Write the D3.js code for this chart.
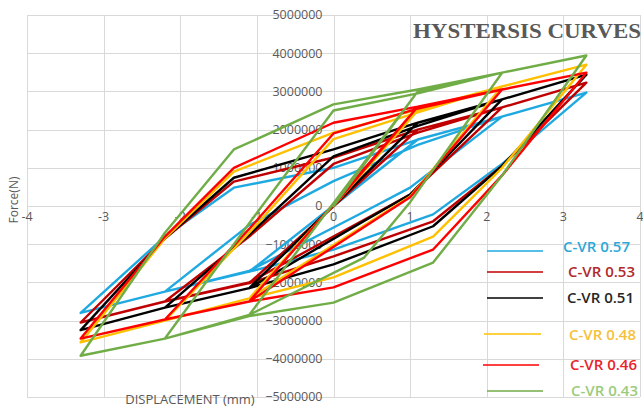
<!DOCTYPE html>
<html>
<head>
<meta charset="utf-8">
<script src="https://cdn.jsdelivr.net/npm/d3@7"></script>
<style>
  html, body { margin: 0; padding: 0; background: #fff; }
  svg { display: block; }
</style>
</head>
<body>
<svg id="chart" width="643" height="408"></svg>
<script>
// ---- data (displacement in mm, force in MN) ----
const displacement = [0, 1.1, -1.1, 1.1, 2.2, 1.0, 0.4, -1.1, -2.2, -1.1, 0, 1.1, 2.2, 3.3, 2.2, 1.3, 0, -1.1, -2.2, -3.3, -2.2, -1.3, 0, 1.1, 2.2, 3.3];
const cvr057 = [0, 1.74, -1.72, 1.74, 2.34, 0.48, -0.15, -1.7, -2.24, -0.5, 0.65, 1.6, 2.34, 2.97, 1.1, -0.22, -1.14, -1.72, -2.24, -2.8, -0.8, 0.48, 1.0, 1.74, 2.34, 2.97];
const cvr053 = [0, 2.0, -2.02, 2.0, 2.58, 0.3, -0.36, -2.0, -2.5, -0.8, 1.1, 1.92, 2.58, 3.23, 1.05, -0.4, -1.32, -2.02, -2.5, -3.05, -0.85, 0.64, 1.27, 2.0, 2.58, 3.23];
const cvr051 = [0, 2.18, -2.15, 2.18, 2.79, 0.3, -0.39, -2.15, -2.66, -0.75, 1.3, 2.1, 2.79, 3.44, 1.05, -0.53, -1.53, -2.15, -2.66, -3.25, -0.85, 0.74, 1.48, 2.18, 2.79, 3.44];
const cvr048 = [0, 2.5, -2.42, 2.5, 3.13, 0.25, -0.51, -2.42, -3.0, -0.7, 1.75, 2.45, 3.13, 3.70, 1.0, -0.8, -1.87, -2.42, -3.0, -3.57, -0.85, 0.9, 1.92, 2.53, 3.13, 3.70];
const cvr046 = [0, 2.6, -2.5, 2.6, 3.05, 0.23, -0.55, -2.5, -2.97, -0.6, 1.9, 2.55, 3.05, 3.49, 0.8, -1.14, -2.13, -2.5, -2.97, -3.47, -0.8, 1.0, 2.18, 2.6, 3.05, 3.49];
const cvr043 = [0, 3.0, -2.85, 3.0, 3.49, 0.1, -1.35, -2.85, -3.47, -0.45, 2.5, 2.95, 3.49, 3.94, 0.8, -1.48, -2.53, -2.88, -3.47, -3.92, -0.7, 1.48, 2.66, 3.05, 3.49, 3.94];
const seriesNames = ["C-VR 0.57", "C-VR 0.53", "C-VR 0.51", "C-VR 0.48", "C-VR 0.46", "C-VR 0.43"];
const xTicks = [-4, -3, -2, -1, 0, 1, 2, 3, 4];
const yTicks = [-5000000, -4000000, -3000000, -2000000, -1000000, 0, 1000000, 2000000, 3000000, 4000000, 5000000];

// ---- styling ----
const colors = ["#1FA9E1", "#C00000", "#000000", "#FFC000", "#FF0000", "#70AD47"];
const textColors = ["#2CA8D9", "#B02A2A", "#262626", "#F5C13A", "#E8232A", "#9CCB7E"];
const legendLines = [
  {x1: 487, x2: 543, y: 251, tx: 563, ty: 247},
  {x1: 487, x2: 543, y: 272, tx: 568, ty: 272},
  {x1: 487, x2: 543, y: 298, tx: 567, ty: 298},
  {x1: 484, x2: 541, y: 334, tx: 569, ty: 335},
  {x1: 483, x2: 539, y: 365, tx: 570, ty: 365},
  {x1: 487, x2: 543, y: 391, tx: 571, ty: 391}
];
const forces = [cvr057, cvr053, cvr051, cvr048, cvr046, cvr043];

const svg = d3.select("#chart");
const x = d3.scaleLinear().domain([-4, 4]).range([27, 640]);
const y = d3.scaleLinear().domain([-5000000, 5000000]).range([397, 15]);

// gridlines
const grid = svg.append("g").attr("stroke", "#D9D9D9").attr("stroke-width", 1);
grid.selectAll("line.v").data(xTicks).join("line")
  .attr("x1", d => Math.round(x(d)) + 0.5).attr("x2", d => Math.round(x(d)) + 0.5)
  .attr("y1", y(5000000)).attr("y2", y(-5000000));
grid.selectAll("line.h").data(yTicks).join("line")
  .attr("x1", x(-4)).attr("x2", x(4))
  .attr("y1", d => Math.round(y(d)) + 0.5).attr("y2", d => Math.round(y(d)) + 0.5);

// tick labels
const font = "'Open Sans', 'Liberation Sans', sans-serif";
svg.append("g").selectAll("text").data(yTicks).join("text")
  .attr("x", x(0) - 11).attr("y", d => y(d)).attr("dy", "0.35em")
  .attr("text-anchor", "end").attr("font-family", font).attr("font-size", 12.5)
  .attr("fill", "#595959").text(d => d3.format("d")(d));
svg.append("g").selectAll("text").data(xTicks).join("text")
  .attr("x", d => x(d)).attr("y", y(0) + 11).attr("dy", "0.35em")
  .attr("text-anchor", "middle").attr("font-family", font).attr("font-size", 12.5)
  .attr("fill", "#595959").text(d => d);

// series
const line = d3.line().x(d => x(d[0])).y(d => y(d[1] * 1000000));
forces.forEach((f, i) => {
  const pts = displacement.map((dv, j) => [dv, f[j]]);
  svg.append("path").datum(pts).attr("d", line)
    .attr("fill", "none").attr("stroke", colors[i]).attr("stroke-width", 2.4)
    .attr("stroke-linejoin", "round").attr("stroke-linecap", "round");
});

// axis titles
svg.append("text").attr("transform", "translate(18,200) rotate(-90)")
  .attr("text-anchor", "middle").attr("font-family", font).attr("font-size", 12)
  .attr("fill", "#595959").text("Force(N)");
svg.append("text").attr("x", 190).attr("y", 399).attr("dy", "0.35em")
  .attr("text-anchor", "middle").attr("font-family", font).attr("font-size", 13)
  .attr("fill", "#595959").text("DISPLACEMENT (mm)");

// title
svg.append("text").attr("x", 413).attr("y", 38)
  .attr("font-family", "'Liberation Serif', 'DejaVu Serif', serif").attr("font-weight", "bold")
  .attr("font-size", 20).attr("fill", "#595959")
  .attr("textLength", 228).attr("lengthAdjust", "spacingAndGlyphs")
  .text("HYSTERSIS CURVES");

// legend
const lg = svg.append("g");
seriesNames.forEach((name, i) => {
  const L = legendLines[i];
  lg.append("line").attr("x1", L.x1).attr("x2", L.x2).attr("y1", L.y).attr("y2", L.y)
    .attr("stroke", colors[i]).attr("stroke-width", 1.5);
  lg.append("text").attr("x", L.tx).attr("y", L.ty).attr("dy", "0.35em")
    .attr("font-family", font).attr("font-size", 15).attr("font-weight", 600)
    .attr("fill", textColors[i]).text(name);
});
</script>
</body>
</html>
